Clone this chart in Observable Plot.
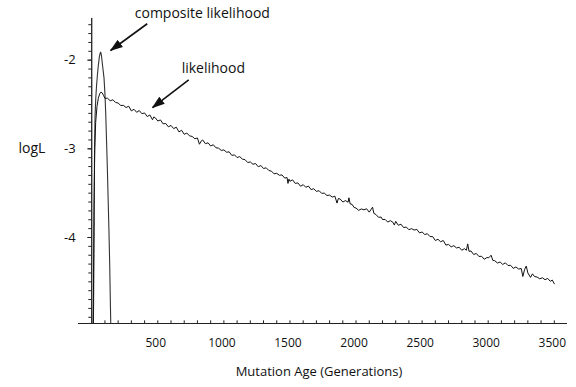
<!DOCTYPE html>
<html><head><meta charset="utf-8">
<script src="https://cdn.jsdelivr.net/npm/d3@7"></script>
<script src="https://cdn.jsdelivr.net/npm/@observablehq/plot@0.6"></script>
<style>body{margin:0;background:#fff} svg{display:block}</style>
</head><body><div id="chart"></div>
<script>
// Likelihood curve (generations, logL)
const likeGen = [10,14,18,23,30,40,50,60,70,80,90,100,120,140,160,180,200,220,240,260,280,300,320,340,360,380,400,420,440,460,470,480,500,520,540,560,580,600,620,640,660,680,700,720,740,760,780,800,815,830,840,860,880,900,920,940,960,980,1000,1020,1040,1060,1080,1100,1120,1140,1160,1180,1200,1220,1240,1260,1280,1300,1320,1340,1360,1380,1400,1420,1440,1460,1478,1485,1492,1500,1520,1540,1560,1580,1600,1620,1640,1660,1680,1700,1720,1740,1760,1780,1800,1820,1840,1856,1866,1880,1900,1920,1940,1946,1956,1970,1985,2000,2020,2040,2060,2080,2100,2115,2125,2135,2150,2170,2190,2200,2220,2240,2260,2280,2290,2300,2320,2340,2360,2380,2400,2420,2440,2460,2480,2500,2520,2540,2560,2580,2600,2620,2640,2660,2680,2700,2720,2740,2760,2780,2800,2820,2835,2845,2855,2870,2890,2910,2930,2950,2970,2990,3005,3022,3035,3050,3070,3090,3110,3130,3150,3170,3190,3210,3230,3250,3262,3275,3288,3300,3320,3335,3350,3370,3390,3410,3430,3450,3470,3485,3500];
const likeLogL = [-5.3,-4.4,-3.6,-3.0,-2.7,-2.52,-2.43,-2.38,-2.36,-2.37,-2.40,-2.430,-2.430,-2.458,-2.447,-2.476,-2.484,-2.511,-2.510,-2.534,-2.519,-2.572,-2.554,-2.588,-2.568,-2.604,-2.595,-2.636,-2.618,-2.672,-2.641,-2.648,-2.686,-2.674,-2.718,-2.714,-2.752,-2.736,-2.772,-2.756,-2.809,-2.791,-2.836,-2.822,-2.854,-2.860,-2.886,-2.878,-2.948,-2.909,-2.900,-2.942,-2.932,-2.968,-2.954,-2.988,-2.992,-3.018,-3.012,-3.038,-3.034,-3.074,-3.068,-3.098,-3.088,-3.116,-3.122,-3.154,-3.148,-3.174,-3.166,-3.202,-3.188,-3.222,-3.214,-3.244,-3.252,-3.282,-3.276,-3.298,-3.294,-3.330,-3.324,-3.390,-3.342,-3.366,-3.350,-3.390,-3.384,-3.422,-3.404,-3.434,-3.420,-3.460,-3.450,-3.480,-3.472,-3.502,-3.500,-3.526,-3.522,-3.544,-3.534,-3.612,-3.560,-3.566,-3.600,-3.584,-3.602,-3.552,-3.622,-3.626,-3.661,-3.668,-3.694,-3.678,-3.688,-3.676,-3.714,-3.680,-3.658,-3.728,-3.740,-3.772,-3.770,-3.798,-3.796,-3.826,-3.810,-3.830,-3.860,-3.818,-3.862,-3.850,-3.888,-3.882,-3.912,-3.900,-3.916,-3.908,-3.948,-3.938,-3.966,-3.958,-3.990,-3.990,-4.034,-4.020,-4.048,-4.034,-4.086,-4.078,-4.106,-4.092,-4.118,-4.110,-4.144,-4.126,-4.144,-4.072,-4.156,-4.152,-4.192,-4.180,-4.214,-4.212,-4.246,-4.226,-4.228,-4.200,-4.258,-4.262,-4.288,-4.276,-4.304,-4.286,-4.316,-4.314,-4.348,-4.332,-4.356,-4.350,-4.440,-4.362,-4.322,-4.400,-4.450,-4.410,-4.440,-4.446,-4.466,-4.454,-4.476,-4.462,-4.494,-4.480,-4.522];

// Composite likelihood curve
const compGen = [10,15,18,21,25,30,36,43,50,58,64,68,74,82,93,100,106,112,118,124,130,136,142,148];
const compLogL = [-5.3,-4.6,-3.8,-3.1,-2.65,-2.45,-2.3,-2.17,-2.06,-1.96,-1.92,-1.91,-1.95,-2.06,-2.2,-2.38,-2.6,-2.9,-3.2,-3.55,-3.9,-4.3,-4.8,-5.3];

// Axes
const xDomain = [-100, 3600];
const yDomain = [-4.97, -1.53];
const xTickLabels = [500, 1000, 1500, 2000, 2500, 3000, 3500];
const xMinorTicks = [100,200,300,400,500,600,700,800,900,1000,1100,1200,1300,1400,1500,1600,1700,1800,1900,2000,2100,2200,2300,2400,2500,2600,2700,2800,2900,3000,3100,3200,3300,3400,3500];
const yTickLabels = [-2, -3, -4];
const yMinorTicks = [-4.9,-4.8,-4.7,-4.6,-4.5,-4.4,-4.3,-4.2,-4.1,-4.0,-3.9,-3.8,-3.7,-3.6,-3.5,-3.4,-3.3,-3.2,-3.1,-3.0,-2.9,-2.8,-2.7,-2.6,-2.5,-2.4,-2.3,-2.2,-2.1,-2.0,-1.9,-1.8,-1.7,-1.6];

// Annotations
const noteText = ["composite likelihood", "likelihood"];
const noteGen = [837, 920];
const noteLogL = [-1.475, -2.094];
const arrowFromGen = [420, 734];
const arrowFromLogL = [-1.589, -2.221];
const arrowToGen = [143, 460];
const arrowToLogL = [-1.891, -2.534];

const like = likeGen.map((g, i) => ({gen: g, logL: likeLogL[i]}));
const comp = compGen.map((g, i) => ({gen: g, logL: compLogL[i]}));
const notes = noteText.map((t, i) => ({t, gen: noteGen[i], logL: noteLogL[i]}));
const arrows = arrowFromGen.map((g, i) => ({x1: g, y1: arrowFromLogL[i], x2: arrowToGen[i], y2: arrowToLogL[i]}));

const plot = Plot.plot({
  width: 576, height: 387,
  marginLeft: 78, marginRight: 9, marginTop: 18, marginBottom: 64,
  style: {fontFamily: "'Open Sans', sans-serif", fontSize: "12px", color: "#111", background: "#fff"},
  x: {domain: xDomain},
  y: {domain: yDomain, axis: null},
  marks: [
    // axis lines
    Plot.ruleY([yDomain[0]], {stroke: "#222", strokeWidth: 1.2}),
    Plot.ruleX([0], {stroke: "#222", strokeWidth: 1.3}),
    // x ticks (pointing up from the baseline)
    Plot.ruleX(xMinorTicks, {y1: yDomain[0], y2: yDomain[0] + 0.03, stroke: "#222"}),
    Plot.axisX({ticks: xTickLabels, tickSize: 0, tickPadding: 15, tickFormat: d => String(d), label: null, dx: -2, fontSize: 12}),
    // y ticks: short stubs left of the y axis at x = 0
    Plot.ruleY(yMinorTicks, {x1: -22, x2: 0, stroke: "#222"}),
    Plot.ruleY(yTickLabels, {x1: -30, x2: 0, stroke: "#222"}),
    Plot.text(yTickLabels, {x: 0, y: d => d, text: d => String(d), dx: -16, textAnchor: "end", fontSize: 13, fill: "#111"}),
    // curves
    Plot.line(comp, {x: "gen", y: "logL", stroke: "#333", strokeWidth: 1.1, clip: true}),
    Plot.line(like, {x: "gen", y: "logL", stroke: "#111", strokeWidth: 1, clip: true}),
    // annotations
    Plot.link(arrows, {x1: "x1", y1: "y1", x2: "x2", y2: "y2", stroke: "#111", strokeWidth: 1.6}),
    Plot.text(notes, {x: "gen", y: "logL", text: "t", fontSize: 14, fill: "#111"}),
    Plot.text(["logL"], {frameAnchor: "left", textAnchor: "middle", y: [-3], dx: -46.5, fontSize: 14, fill: "#111"}),
    Plot.text(["Mutation Age (Generations)"], {frameAnchor: "bottom", dy: 52, dx: -4, fontSize: 13, fill: "#111"})
  ]
});

// filled arrowheads on the annotation links
const svg = d3.select(plot);
svg.insert("defs", ":first-child").append("marker")
  .attr("id", "ah").attr("markerUnits", "userSpaceOnUse")
  .attr("viewBox", "0 -5 13 10").attr("refX", 12).attr("refY", 0)
  .attr("markerWidth", 13).attr("markerHeight", 10).attr("orient", "auto")
  .append("path").attr("d", "M0,-4.5L13,0L0,4.5Z").attr("fill", "#111");
svg.selectAll('g[aria-label="link"] path').attr("marker-end", "url(#ah)");

document.getElementById("chart").appendChild(plot);
</script>
</body></html>
